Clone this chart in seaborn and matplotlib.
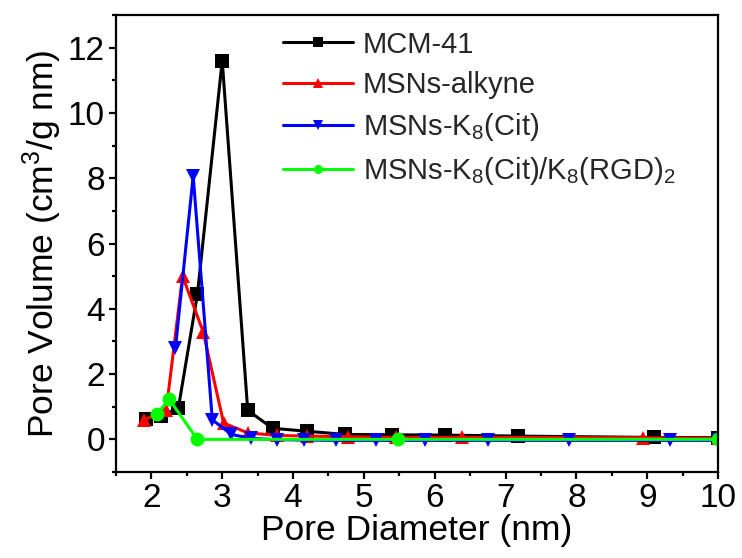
import pandas as pd
import seaborn as sns
import matplotlib.pyplot as plt
from matplotlib.ticker import MultipleLocator

# pore size distributions
mcm_x = [1.92, 2.13, 2.38, 2.65, 3.00, 3.36, 3.71, 4.19, 4.74, 5.40, 6.15, 7.18, 9.10, 10.0]
mcm_y = [0.61, 0.71, 0.95, 4.45, 11.6, 0.89, 0.34, 0.25, 0.15, 0.14, 0.13, 0.10, 0.06, 0.05]

alk_x = [1.90, 2.21, 2.44, 2.73, 3.02, 3.36, 3.77, 4.20, 4.77, 5.45, 6.38, 8.94, 10.0]
alk_y = [0.60, 0.90, 5.00, 3.30, 0.50, 0.20, 0.12, 0.10, 0.08, 0.06, 0.06, 0.05, 0.03]

cit_x = [2.34, 2.59, 2.86, 3.13, 3.41, 3.77, 4.15, 4.61, 5.17, 5.86, 6.75, 7.90, 9.32, 10.0]
cit_y = [2.80, 8.07, 0.60, 0.15, 0.03, -0.01, -0.02, -0.03, -0.03, -0.03, -0.03, -0.03, -0.03, -0.03]

rgd_x = [2.08, 2.25, 2.65, 5.48, 10.0]
rgd_y = [0.77, 1.23, 0.0, 0.0, 0.0]

labels = ['MCM-41', 'MSNs-alkyne', r'MSNs-K$_\mathregular{8}$(Cit)',
          r'MSNs-K$_\mathregular{8}$(Cit)/K$_\mathregular{8}$(RGD)$_\mathregular{2}$']
colors = ['#000000', '#ff0000', '#0000ff', '#00ff00']
markers = ['s', '^', 'v', 'o']

frames = []
for lab, xs, ys in zip(labels, [mcm_x, alk_x, cit_x, rgd_x], [mcm_y, alk_y, cit_y, rgd_y]):
    frames.append(pd.DataFrame({'d': xs, 'v': ys, 'sample': lab}))
df = pd.concat(frames, ignore_index=True)

sns.set_theme(style='ticks')
plt.rcParams['font.family'] = ['Liberation Sans', 'DejaVu Sans']
plt.rcParams['mathtext.fontset'] = 'custom'
plt.rcParams['mathtext.rm'] = 'Liberation Sans'
plt.rcParams['mathtext.it'] = 'Liberation Sans:italic'
plt.rcParams['mathtext.bf'] = 'Liberation Sans:bold'

fig = plt.figure(figsize=(7.42, 5.58), dpi=100)
ax = fig.add_axes([0.1563, 0.1541, 0.8114, 0.819])

sns.lineplot(data=df, x='d', y='v', hue='sample', style='sample',
             palette=colors, markers=markers, dashes=False, sort=False,
             estimator=None, linewidth=2.2, markersize=10,
             markeredgewidth=0, ax=ax)

ax.set_xlim(1.5, 10)
ax.set_ylim(-1, 13)
ax.xaxis.set_major_locator(MultipleLocator(1))
ax.xaxis.set_minor_locator(MultipleLocator(0.5))
ax.yaxis.set_major_locator(MultipleLocator(2))
ax.yaxis.set_minor_locator(MultipleLocator(1))
ax.tick_params(which='major', direction='out', length=5, width=1.6, labelsize=24, pad=3,
               labelcolor='black', color='black')
ax.tick_params(which='minor', direction='out', length=3, width=1.6, color='black')
for s in ax.spines.values():
    s.set_linewidth(1.6)
    s.set_color('black')

ax.set_xlabel('Pore Diameter (nm)', fontsize=25.5, labelpad=0, color='black')
ax.set_ylabel(r'Pore Volume (cm$^\mathregular{3}$/g nm)', fontsize=25.5, labelpad=3, color='black')

ax.legend(loc='upper left', bbox_to_anchor=(0.277, 0.966), frameon=False,
          fontsize=21, handlelength=2.4, handletextpad=0.35, borderpad=0,
          borderaxespad=0, labelspacing=0.42, markerscale=0.65)

fig.savefig('out.png', dpi=100)
